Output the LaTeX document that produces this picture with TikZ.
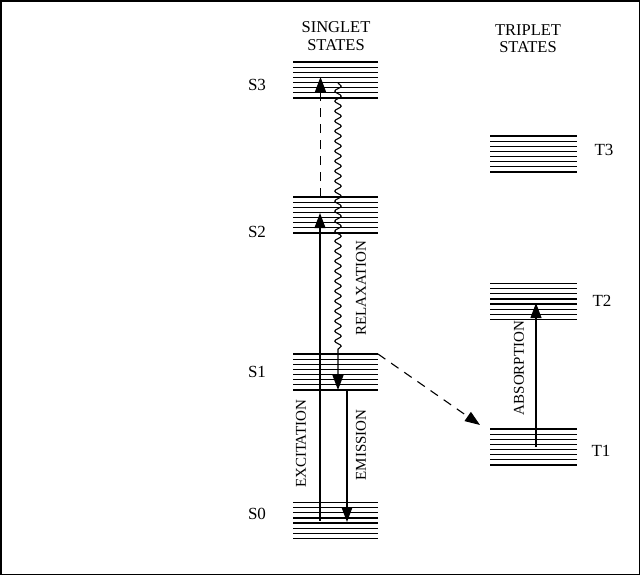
\documentclass[tikz,border=0pt]{standalone}
\usepackage{fontspec}
\setmainfont{Liberation Serif}
\usetikzlibrary{arrows.meta,positioning,calc,decorations.pathmorphing}

\tikzset{
  level/.style={minimum width=85pt,minimum height=36pt,inner sep=0pt,outer sep=0pt},
  lvl/.style={font=\fontsize{17}{18}\selectfont,inner sep=0pt},
  head/.style={font=\fontsize{16.5}{17.5}\selectfont,align=center,inner sep=0pt},
  side/.style={font=\fontsize{15}{16}\selectfont,rotate=90,inner sep=0pt},
  ray/.style={line width=1.1pt,-{Triangle[length=15pt,width=11pt]}},
  hop/.style={ray,dash pattern=on 9pt off 7pt},
}
% horizontal lines of one energy level
\newcommand{\levelstack}[1]{%
  \foreach \k in {0,...,7}{
    \draw[line width=1.2pt] ($(#1.north west)!\k/7!(#1.south west)$) -- ($(#1.north east)!\k/7!(#1.south east)$);
  }
  \draw[line width=1.7pt] (#1.north west) -- (#1.north east);
  \draw[line width=1.7pt] (#1.south west) -- (#1.south east);
}

\begin{document}
\begin{tikzpicture}[x=1pt,y=-1pt]
  \useasboundingbox (0,0) rectangle (641,576);
  \draw[line width=1.5pt] (0.75,0.75) rectangle (639.25,574.25);

  % singlet levels
  \node[level] (S3) at (335.5,80) {};
  \node[level] (S2) at (335.5,215) {};
  \node[level] (S1) at (335.5,372) {};
  \node[level] (S0) at (335.5,520.5) {};
  % triplet levels
  \node[level,minimum width=87pt] (T3) at (533.5,154) {};
  \node[level,minimum width=87pt] (T2) at (533.5,301.5) {};
  \node[level,minimum width=87pt] (T1) at (533.5,447) {};

  \levelstack{S3}
  \levelstack{S2}
  \levelstack{S1}
  \levelstack{S0}
  \levelstack{T3}
  \levelstack{T2}
  \levelstack{T1}

  \node[head] (hs) at (336,36) {SINGLET\\STATES};
  \node[head] (ht) at (528,38.5) {TRIPLET\\STATES};

  \node[lvl] (lS3) at (257,85) {S3};
  \node[lvl] (lS2) at (257,232) {S2};
  \node[lvl] (lS1) at (257,372) {S1};
  \node[lvl] (lS0) at (257,514) {S0};
  \node[lvl] (lT3) at (604,150) {T3};
  \node[lvl] (lT2) at (602,301) {T2};
  \node[lvl] (lT1) at (601,451) {T1};

  % transitions
  \draw[ray] ([xshift=-15.5pt]S0.center) -- ([xshift=-15.5pt,yshift=2pt]S2.center);
  \draw[hop] ([xshift=-15pt]S2.north) -- ([xshift=-15pt,yshift=3pt]S3.center);
  \draw[ray,decorate,decoration={snake,segment length=10pt,amplitude=3.2pt,post length=36pt}]
    ([xshift=2.5pt,yshift=-3pt]S3.center) -- ([xshift=2.5pt]S1.south);
  \draw[ray] ([xshift=11.5pt]S1.south) -- ([xshift=11.5pt,yshift=-1.5pt]S0.center);
  \draw[hop] (S1.north east) -- ([shift={(-10pt,4pt)}]T1.north west);
  \draw[ray] ([xshift=2.5pt]T1.center) -- ([xshift=2.5pt,yshift=-1.5pt]T2.center);

  \node[side] (ex) at (301,444) {EXCITATION};
  \node[side] (em) at (361,445) {EMISSION};
  \node[side] (rx) at (361,288) {RELAXATION};
  \node[side] (ab) at (519,368) {ABSORPTION};
\end{tikzpicture}
\end{document}
